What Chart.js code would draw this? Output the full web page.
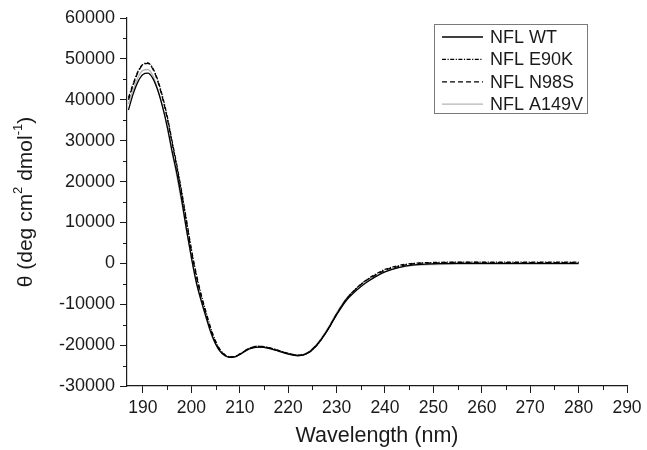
<!DOCTYPE html>
<html>
<head>
<meta charset="utf-8">
<script src="https://cdn.jsdelivr.net/npm/chart.js@4.4.1/dist/chart.umd.min.js"></script>
<style>
  html, body { margin: 0; padding: 0; background: #fff; }
  #wrap { width: 647px; height: 450px; }
</style>
</head>
<body>
<div id="wrap"><canvas id="cd"></canvas></div>
<script>
'use strict';

/* ---------- data ---------- */
const wavelengths = [187, 188, 189, 190, 191, 192, 193, 194, 195, 196, 197, 198, 199, 200, 201, 202, 203, 204, 205, 206, 207, 208, 209, 210,
  212, 214, 216, 218, 220, 222, 224, 226, 228, 230, 232, 234, 236, 238, 240, 243, 246, 250, 255, 260, 265, 270, 275, 280];

const wt = [37500, 41500, 44500, 46200, 46500, 45300, 42500, 38500, 33500, 27500, 22000, 15500, 8200, 1500, -4500, -9000, -13000, -16800, -19700, -21600, -22600, -23000, -22900, -22300,
  -20900, -20500, -20800, -21500, -22200, -22600, -22000, -19900, -16600, -12600, -9100, -6700, -4800, -3300, -2100, -1000, -400, -100, 0, 0, 0, 0, 0, 0];

const e90k = [40500, 44000, 47000, 48700, 49000, 47800, 45000, 41000, 36000, 30000, 24000, 17500, 10500, 3500, -2500, -7500, -11800, -15800, -19000, -21200, -22400, -22900, -22800, -22200,
  -20800, -20300, -20600, -21300, -22000, -22500, -22000, -19900, -16600, -12500, -8800, -6200, -4200, -2700, -1500, -500, 0, 200, 300, 300, 300, 300, 300, 300];

const n98s = [40000, 43700, 46800, 48600, 48900, 47600, 44700, 40600, 35500, 29500, 23500, 17000, 10000, 3000, -3000, -8000, -12200, -16200, -19300, -21400, -22500, -22900, -22800, -22200,
  -20800, -20400, -20700, -21400, -22100, -22500, -21900, -19800, -16500, -12400, -8800, -6300, -4300, -2900, -1700, -700, -100, 100, 200, 200, 150, 150, 150, 150];

const a149v = [39000, 42500, 45500, 47200, 47400, 46000, 42800, 38500, 33200, 27200, 21300, 14900, 8000, 1300, -4700, -9200, -13200, -17000, -19800, -21700, -22700, -23000, -22900, -22300,
  -20700, -20200, -20600, -21300, -22000, -22400, -21800, -19600, -16200, -12100, -8600, -6200, -4400, -3100, -2000, -1000, -500, -300, -200, -200, -200, -200, -200, -200];

const seriesNames = ['NFL WT', 'NFL E90K', 'NFL N98S', 'NFL A149V'];

const xTicks = [190, 200, 210, 220, 230, 240, 250, 260, 270, 280, 290];
const xMinor = [195, 205, 215, 225, 235, 245, 255, 265, 275, 285];
const yTicks = [-30000, -20000, -10000, 0, 10000, 20000, 30000, 40000, 50000, 60000];
const yMinor = [-25000, -15000, -5000, 5000, 15000, 25000, 35000, 45000, 55000];

/* ---------- helpers ---------- */
const FONT = '"Liberation Sans", Arial, sans-serif';
const INK = '#1a1a1a';

function toPoints(values) {
  return values.map((v, i) => ({ x: wavelengths[i], y: v }));
}

function makeSet(label, values, color, dash) {
  return {
    label,
    data: toPoints(values),
    borderColor: color,
    borderWidth: 1.3,
    borderDash: dash,
    pointRadius: 0,
    fill: false,
    cubicInterpolationMode: 'monotone',
  };
}

/* minor ticks, legend box and the y title with superscripts */
const extrasPlugin = {
  id: 'extras',
  afterDraw(chart) {
    const { ctx, chartArea } = chart;
    const xs = chart.scales.x, ys = chart.scales.y;
    ctx.save();
    ctx.strokeStyle = INK;
    ctx.lineWidth = 1;
    ctx.beginPath();
    xMinor.forEach(v => {
      const px = Math.round(xs.getPixelForValue(v)) + 0.5;
      ctx.moveTo(px, chartArea.bottom);
      ctx.lineTo(px, chartArea.bottom + 4);
    });
    yMinor.forEach(v => {
      const py = Math.round(ys.getPixelForValue(v)) + 0.5;
      ctx.moveTo(chartArea.left, py);
      ctx.lineTo(chartArea.left - 4, py);
    });
    ctx.stroke();

    // legend
    const boxR = chartArea.right - 40, boxT = chartArea.top + 6;
    const boxW = 153, boxH = 89;
    const boxL = boxR - boxW;
    ctx.strokeStyle = '#7a7a7a';
    ctx.lineWidth = 1;
    ctx.strokeRect(boxL + 0.5, boxT + 0.5, boxW, boxH);
    ctx.font = '18px ' + FONT;
    ctx.textBaseline = 'middle';
    ctx.textAlign = 'left';
    chart.data.datasets.forEach((ds, i) => {
      const y = boxT + 13 + i * 22.4;
      ctx.strokeStyle = ds.borderColor;
      ctx.lineWidth = ds.borderWidth;
      ctx.setLineDash(ds.borderDash || []);
      ctx.beginPath();
      ctx.moveTo(boxL + 8, y);
      ctx.lineTo(boxL + 49, y);
      ctx.stroke();
      ctx.setLineDash([]);
      ctx.fillStyle = INK;
      ctx.fillText(ds.label, boxL + 56, y + 1);
    });

    // y axis title
    const parts = [
      ['θ (deg cm', 21, 0], ['2', 13, -8], [' dmol', 21, 0], ['-1', 13, -8], [')', 21, 0]
    ];
    let total = 0;
    parts.forEach(p => { ctx.font = p[1] + 'px ' + FONT; total += ctx.measureText(p[0]).width; });
    ctx.translate(26, (chartArea.top + chartArea.bottom) / 2);
    ctx.rotate(-Math.PI / 2);
    ctx.fillStyle = INK;
    ctx.textBaseline = 'middle';
    let cx = -total / 2;
    parts.forEach(p => {
      ctx.font = p[1] + 'px ' + FONT;
      ctx.fillText(p[0], cx, p[2]);
      cx += ctx.measureText(p[0]).width;
    });
    ctx.restore();
  }
};

/* ---------- chart ---------- */
const ctx = document.getElementById('cd').getContext('2d');

new Chart(ctx, {
  type: 'line',
  data: {
    datasets: [
      makeSet(seriesNames[0], wt, '#000000', []),
      makeSet(seriesNames[1], e90k, '#000000', [4, 1.5, 1.2, 1.5]),
      makeSet(seriesNames[2], n98s, '#000000', [5, 3]),
      makeSet(seriesNames[3], a149v, '#b4b4b4', []),
    ]
  },
  options: {
    responsive: true,
    maintainAspectRatio: false,
    animation: false,
    layout: { padding: { top: 18, right: 20, left: 0, bottom: 0 } },
    plugins: {
      legend: { display: false },
      tooltip: { enabled: false },
    },
    scales: {
      x: {
        type: 'linear',
        min: 186.7,
        max: 290,
        afterBuildTicks: s => { s.ticks = xTicks.map(v => ({ value: v })); },
        afterFit: s => { s.height = 64; },
        ticks: {
          color: INK,
          font: { family: FONT, size: 17.5 },
          padding: 5,
          maxRotation: 0,
          autoSkip: false,
        },
        grid: { drawOnChartArea: false, drawTicks: true, tickLength: 7, color: INK, lineWidth: 1 },
        border: { display: true, color: INK, width: 1.2 },
        title: {
          display: true,
          text: 'Wavelength (nm)',
          color: INK,
          font: { family: FONT, size: 21.5 },
          padding: { top: 0, bottom: 1 },
        },
      },
      y: {
        type: 'linear',
        min: -30000,
        max: 60000,
        afterBuildTicks: s => { s.ticks = yTicks.map(v => ({ value: v })); },
        afterFit: s => { s.width = 127; },
        ticks: {
          color: INK,
          font: { family: FONT, size: 18 },
          padding: 5,
          autoSkip: false,
          callback: v => String(v),
        },
        grid: { drawOnChartArea: false, drawTicks: true, tickLength: 7, color: INK, lineWidth: 1 },
        border: { display: true, color: INK, width: 1.2 },
      },
    },
  },
  plugins: [extrasPlugin],
});
</script>
</body>
</html>
